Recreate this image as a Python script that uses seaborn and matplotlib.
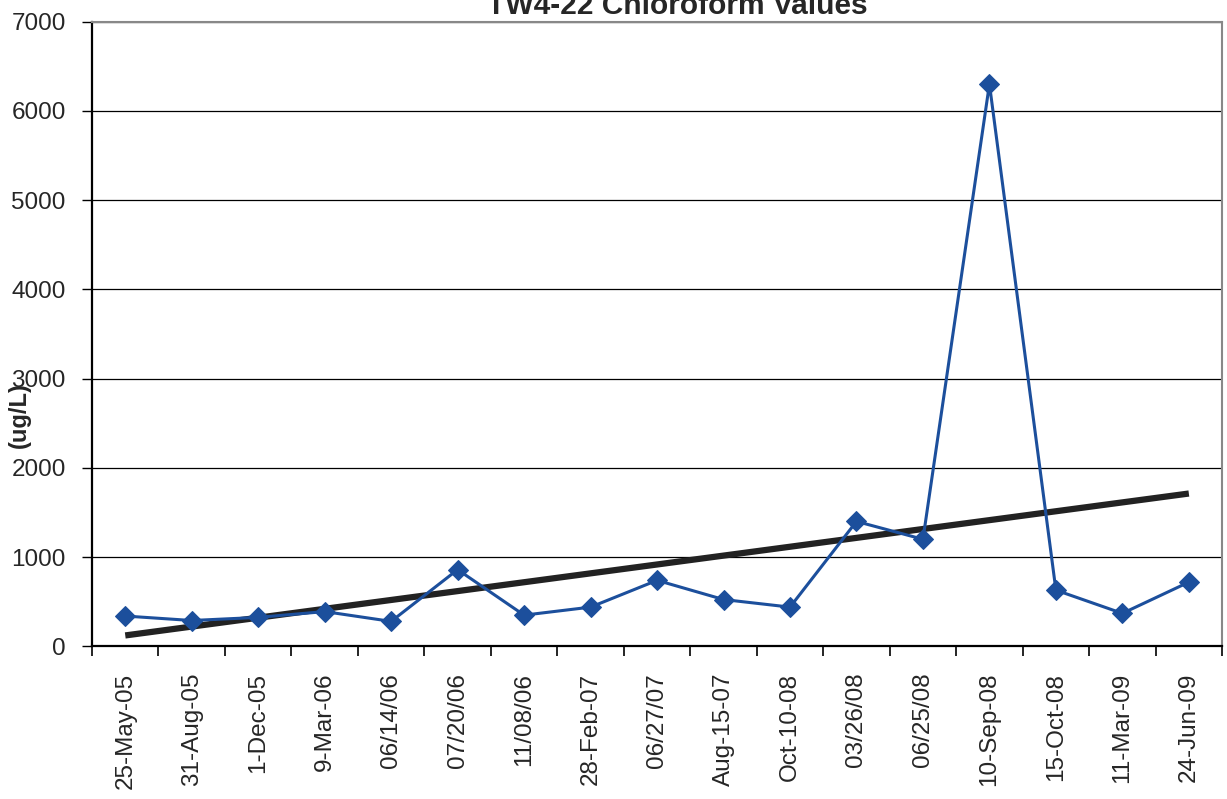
import numpy as np
import matplotlib
matplotlib.use("Agg")
import matplotlib.pyplot as plt
import pandas as pd
import seaborn as sns

dates = ["25-May-05", "31-Aug-05", "1-Dec-05", "9-Mar-06", "06/14/06", "07/20/06",
         "11/08/06", "28-Feb-07", "06/27/07", "Aug-15-07", "Oct-10-08", "03/26/08",
         "06/25/08", "10-Sep-08", "15-Oct-08", "11-Mar-09", "24-Jun-09"]
chloroform = [340, 290, 325, 390, 280, 860, 350, 440, 740, 525, 440, 1400,
              1200, 6300, 630, 370, 720]

df = pd.DataFrame({"pos": np.arange(len(dates)), "val": chloroform})

sns.set_style("white")
plt.rcParams['font.family'] = ['Liberation Sans', 'DejaVu Sans']

fig, ax = plt.subplots(figsize=(12.27, 7.99), dpi=100)
fig.subplots_adjust(left=0.075, right=0.996, top=0.973, bottom=0.191)

# trend line (linear fit)
sns.regplot(data=df, x="pos", y="val", ax=ax, ci=None, scatter=False, truncate=True,
            line_kws={"color": "#222222", "lw": 4.5, "solid_capstyle": "butt", "zorder": 2})
# data series
sns.lineplot(data=df, x="pos", y="val", ax=ax, color="#1c4f9c", lw=2.2,
             marker="D", markersize=10, markeredgecolor="#1c4f9c", zorder=3)

ax.set_xlim(-0.5, len(dates) - 0.5)
ax.set_ylim(0, 7000)
ax.set_yticks(range(0, 7001, 1000))
ax.yaxis.grid(True, color="black", lw=0.9)
ax.set_axisbelow(True)

ax.set_xticks(df["pos"])
ax.set_xticklabels(dates, rotation=90, fontsize=17.5)
ax.set_xticks(np.arange(-0.5, len(dates)), minor=True)
ax.tick_params(axis="x", which="major", length=0, pad=19)
ax.tick_params(axis="x", which="minor", length=7, width=1.2, color="black", direction="out")
ax.tick_params(axis="y", length=7, width=1, color="black", direction="out", labelsize=17.5, pad=12)
ax.tick_params(axis="y", left=True)
ax.tick_params(axis="x", which="minor", bottom=True)

for s in ["left", "bottom"]:
    ax.spines[s].set_color("black")
    ax.spines[s].set_linewidth(1.6)
for s in ["top", "right"]:
    ax.spines[s].set_color("#888888")
    ax.spines[s].set_linewidth(1.5)

ax.set_xlabel("")
ax.set_ylabel("")
fig.text(0.016, 0.48, "(ug/L)", rotation=90, fontsize=17, fontweight="bold",
         ha="center", va="center")
fig.text(0.552, 0.9825, "TW4-22 Chloroform Values", fontsize=21.5, fontweight="bold",
         ha="center", va="baseline")

fig.savefig("out.png", dpi=100)
